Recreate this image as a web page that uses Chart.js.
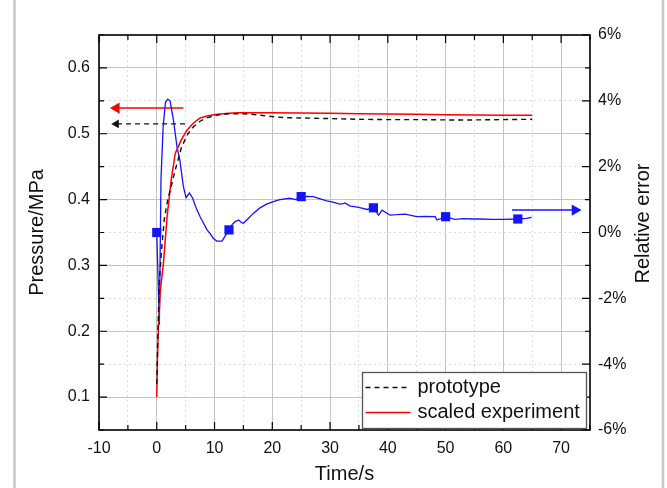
<!DOCTYPE html>
<html>
<head>
<meta charset="utf-8">
<script src="https://cdn.jsdelivr.net/npm/chart.js@4"></script>
<style>
  html, body { margin: 0; padding: 0; background: #fff; }
  canvas { display: block; }
</style>
</head>
<body>
<canvas id="chart" width="667" height="488"></canvas>
<script>
// Values
// prototype pressure (MPa)
const proto_time = [0, 0.2, 0.45, 0.8, 1.3, 1.9, 2.5, 3.2, 4.3, 5.4, 6.4, 7.5, 8.6, 9.8, 11, 12, 14, 16, 18, 20, 22, 25, 30, 35, 40, 45, 50, 55, 60, 65];
const proto_pressure = [0.12, 0.2, 0.277, 0.32, 0.37, 0.4, 0.42, 0.445, 0.48, 0.5, 0.511, 0.519, 0.524, 0.527, 0.529, 0.53, 0.5305, 0.53, 0.528, 0.526, 0.5245, 0.524, 0.523, 0.522, 0.5215, 0.5215, 0.521, 0.521, 0.5215, 0.522];

// scaled experiment pressure (MPa)
const scaled_time = [0, 0.1, 0.28, 0.6, 1.15, 1.8, 2.5, 3.2, 4.2, 5.2, 6.3, 7.5, 8.7, 9.8, 11, 12.5, 14, 17, 20, 25, 30, 35, 40, 45, 50, 55, 60, 65];
const scaled_pressure = [0.1, 0.15, 0.207, 0.26, 0.303, 0.375, 0.43, 0.47, 0.49, 0.505, 0.516, 0.524, 0.527, 0.529, 0.53, 0.531, 0.532, 0.532, 0.532, 0.5315, 0.531, 0.5305, 0.53, 0.5295, 0.529, 0.5285, 0.528, 0.528];

// relative error (%)
const error_time = [0, 0.45, 0.73, 1.1, 1.5, 1.9, 2.3, 2.9, 3.5, 4.0, 4.6, 5.07, 5.65, 6.2, 6.8, 7.5, 8.1, 8.7, 9.3, 9.8, 10.4, 11.3, 11.8, 12.5, 13.1, 13.6, 14.2, 14.7, 15.0, 15.8, 16.7, 17.8, 19, 20.2, 21.3, 23, 24, 25, 26, 27.1, 28.3, 29.4, 30.5, 31.7, 32.3, 32.6, 33.5, 34.5, 35.5, 36.4, 37.5, 38.4, 39, 39.7, 40.4, 41.5, 43, 44, 45, 46.5, 48.2, 48.5, 50, 51.6, 53, 54.5, 56, 58, 60, 62.5, 64, 64.9];
const error_value = [0, -2.8, 1.6, 3.2, 3.95, 4.05, 4.0, 3.4, 2.6, 2.2, 1.4, 1.06, 1.2, 1.05, 0.75, 0.48, 0.28, 0.08, -0.05, -0.18, -0.26, -0.26, -0.12, 0.08, 0.25, 0.33, 0.38, 0.30, 0.28, 0.42, 0.58, 0.74, 0.86, 0.94, 1.0, 1.04, 1.0, 1.09, 1.1, 1.09, 1.02, 0.96, 0.92, 0.86, 0.88, 0.9, 0.8, 0.78, 0.74, 0.70, 0.75, 0.53, 0.68, 0.6, 0.53, 0.54, 0.56, 0.52, 0.48, 0.49, 0.48, 0.38, 0.48, 0.4, 0.42, 0.41, 0.41, 0.4, 0.4, 0.41, 0.43, 0.46];
const marker_time = [0, 12.5, 25, 37.5, 50, 62.5];
const marker_value = [0, 0.08, 1.09, 0.75, 0.48, 0.41];

// axis indicator arrows
const red_arrow_time = [4.6, -7.0];
const red_arrow_level = [0.539, 0.539];
const black_arrow_time = [4.9, -7.0];
const black_arrow_level = [0.515, 0.515];
const blue_arrow_time = [61.5, 72.4];
const blue_arrow_level = [0.68, 0.68];

const legend_labels = ['prototype', 'scaled experiment'];

const font_family = "'Liberation Sans', Arial, sans-serif";
const text_color = '#111';
const blue = '#1414ff';

const to_points = (xs, ys) => xs.map((x, i) => ({x: x, y: ys[i]}));

Chart.defaults.font.family = font_family;
Chart.defaults.color = text_color;

const is_major_x = v => Math.round(v) % 10 === 0;
const is_major_y = v => Math.round(v * 100) % 10 === 0;
const is_major_y2 = v => Math.round(v) % 2 === 0;

// Background, frame box and inward ticks
const frame_plugin = {
    id: 'frame',
    beforeDraw(chart) {
        const ctx = chart.ctx;
        ctx.save();
        ctx.fillStyle = '#fff';
        ctx.fillRect(0, 0, chart.width, chart.height);
        ctx.strokeStyle = '#c8c8c8';
        ctx.lineWidth = 2.5;
        ctx.beginPath();
        ctx.moveTo(14.5, 0); ctx.lineTo(14.5, chart.height);
        ctx.moveTo(663, 0); ctx.lineTo(663, chart.height);
        ctx.stroke();
        ctx.restore();
    },
    afterDatasetsDraw(chart) {
        const {ctx, chartArea: a, scales} = chart;
        ctx.save();
        ctx.strokeStyle = '#000';
        ctx.lineWidth = 1.2;
        ctx.beginPath();
        scales.x.ticks.forEach(t => {
            const px = scales.x.getPixelForValue(t.value);
            const len = is_major_x(t.value) ? 8 : 5;
            ctx.moveTo(px, a.bottom); ctx.lineTo(px, a.bottom - len);
            ctx.moveTo(px, a.top); ctx.lineTo(px, a.top + len);
        });
        scales.y.ticks.forEach(t => {
            const py = scales.y.getPixelForValue(t.value);
            const len = is_major_y(t.value) ? 8 : 5;
            ctx.moveTo(a.left, py); ctx.lineTo(a.left + len, py);
        });
        scales.y2.ticks.forEach(t => {
            const py = scales.y2.getPixelForValue(t.value);
            const len = is_major_y2(t.value) ? 8 : 5;
            ctx.moveTo(a.right, py); ctx.lineTo(a.right - len, py);
        });
        ctx.stroke();
        ctx.lineWidth = 1.6;
        ctx.strokeRect(a.left, a.top, a.right - a.left, a.bottom - a.top);

        // right axis title, read bottom to top
        ctx.fillStyle = text_color;
        ctx.font = `20px ${font_family}`;
        ctx.textAlign = 'center';
        ctx.textBaseline = 'middle';
        ctx.translate(643, (a.top + a.bottom) / 2 - 9);
        ctx.rotate(-Math.PI / 2);
        ctx.fillText('Relative error', 0, 0);
        ctx.restore();
    },
    afterDraw(chart) {
        // legend box inside the plot, lower right
        const ctx = chart.ctx;
        const ds = chart.data.datasets;
        const box = {x: 362.5, y: 372.5, w: 224, h: 56};
        ctx.save();
        ctx.fillStyle = '#fff';
        ctx.fillRect(box.x, box.y, box.w, box.h);
        ctx.strokeStyle = '#555';
        ctx.lineWidth = 1.3;
        ctx.strokeRect(box.x, box.y, box.w, box.h);
        ctx.font = `20px ${font_family}`;
        ctx.textBaseline = 'middle';
        ctx.fillStyle = text_color;
        [0, 1].forEach((k, i) => {
            const y = box.y + 15 + i * 25;
            ctx.strokeStyle = ds[k].borderColor;
            ctx.lineWidth = ds[k].borderWidth;
            ctx.setLineDash(ds[k].borderDash || []);
            ctx.beginPath();
            ctx.moveTo(box.x + 3, y);
            ctx.lineTo(box.x + 48, y);
            ctx.stroke();
            ctx.setLineDash([]);
            ctx.fillText(legend_labels[i], box.x + 55, y);
        });
        ctx.restore();
    }
};

const grid_color = ctx => {
    const v = ctx.tick ? ctx.tick.value : 0;
    return ctx.scale.id === 'x' ? (is_major_x(v) ? '#c4c4c4' : '#dddddd') : (is_major_y(v) ? '#c4c4c4' : '#dddddd');
};
const grid_dash = ctx => {
    const v = ctx.tick ? ctx.tick.value : 0;
    const major = ctx.scale.id === 'x' ? is_major_x(v) : is_major_y(v);
    return major ? [] : [2, 3];
};

const chart_datasets = {
    datasets: [
        {
            label: legend_labels[0],
            data: to_points(proto_time, proto_pressure),
            borderColor: '#111',
            borderWidth: 1.4,
            borderDash: [5, 4],
            pointRadius: 0,
            yAxisID: 'y',
        },
        {
            label: legend_labels[1],
            data: to_points(scaled_time, scaled_pressure),
            borderColor: '#ff0000',
            borderWidth: 1.5,
            pointRadius: 0,
            yAxisID: 'y',
        },
        {
            label: 'relative error',
            data: to_points(error_time, error_value),
            borderColor: blue,
            borderWidth: 1.3,
            pointRadius: 0,
            yAxisID: 'y2',
        },
        {
            label: 'error markers',
            data: to_points(marker_time, marker_value),
            showLine: false,
            pointStyle: 'rect',
            pointRadius: 6.5,
            backgroundColor: blue,
            borderColor: blue,
            borderWidth: 0,
            yAxisID: 'y2',
        },
        {
            label: 'red arrow',
            data: to_points(red_arrow_time, red_arrow_level),
            borderColor: '#ff0000',
            backgroundColor: '#ff0000',
            borderWidth: 1.5,
            pointStyle: 'triangle',
            pointRotation: -90,
            pointRadius: [0, 5],
            yAxisID: 'y',
        },
        {
            label: 'black arrow',
            data: to_points(black_arrow_time, black_arrow_level),
            borderColor: '#111',
            backgroundColor: '#111',
            borderWidth: 1.3,
            borderDash: [5, 4],
            pointStyle: 'triangle',
            pointRotation: -90,
            pointRadius: [0, 5],
            pointBorderWidth: 0,
            yAxisID: 'y',
        },
        {
            label: 'blue arrow',
            data: to_points(blue_arrow_time, blue_arrow_level),
            borderColor: blue,
            backgroundColor: blue,
            borderWidth: 1.5,
            pointStyle: 'triangle',
            pointRotation: 90,
            pointRadius: [0, 5],
            yAxisID: 'y2',
        },
    ],
};

const chart_options = {
    animation: false,
    responsive: false,
    devicePixelRatio: 1,
    events: [],
    layout: { padding: { top: 35, left: 0, right: 0, bottom: 0 } },
    plugins: {
        legend: { display: false },
        title: { display: false },
        tooltip: { enabled: false },
    },
    scales: {
        x: {
            type: 'linear',
            position: 'bottom',
            min: -10,
            max: 75,
            afterFit: s => { s.height = 58; },
            ticks: {
                stepSize: 5,
                padding: 9,
                font: { size: 16 },
                color: text_color,
                maxRotation: 0,
                autoSkip: false,
                callback: v => is_major_x(v) ? String(Math.round(v)) : '',
            },
            grid: { color: grid_color, lineWidth: 1, drawTicks: false },
            border: { display: false, dash: grid_dash },
            title: { display: true, text: 'Time/s', font: { size: 20 }, color: text_color, padding: { top: 0, bottom: 2 } },
        },
        y: {
            type: 'linear',
            position: 'left',
            min: 0.05,
            max: 0.65,
            afterFit: s => { s.width = 99; },
            ticks: {
                stepSize: 0.05,
                padding: 9,
                font: { size: 16 },
                color: text_color,
                autoSkip: false,
                callback: v => is_major_y(v) ? (Math.round(v * 10) / 10).toFixed(1) : '',
            },
            grid: { color: grid_color, lineWidth: 1, drawTicks: false },
            border: { display: false, dash: grid_dash },
            title: { display: true, text: 'Pressure/MPa', font: { size: 20 }, color: text_color, padding: { top: 25, bottom: 0 } },
        },
        y2: {
            type: 'linear',
            position: 'right',
            min: -6,
            max: 6,
            afterFit: s => { s.width = 77; },
            ticks: {
                stepSize: 1,
                padding: 8,
                font: { size: 16 },
                color: text_color,
                autoSkip: false,
                callback: v => is_major_y2(v) ? Math.round(v) + '%' : '',
            },
            grid: { display: false, drawTicks: false },
            border: { display: false },
        },
    },
};

const chart = new Chart(document.getElementById('chart'), {
    type: 'line',
    data: chart_datasets,
    options: chart_options,
    plugins: [frame_plugin],
});
</script>
</body>
</html>
